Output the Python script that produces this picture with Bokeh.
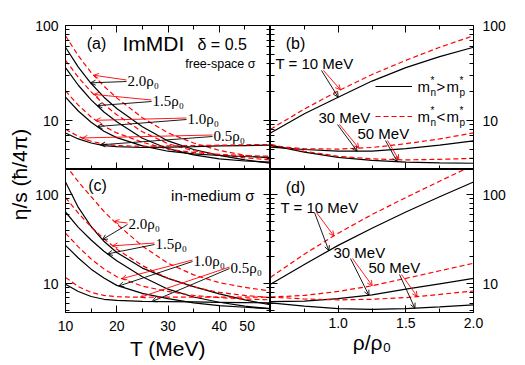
import numpy as np
from bokeh.plotting import figure
from bokeh.models import (Range1d, LinearAxis, LogAxis, FixedTicker, PrintfTickFormatter,
                          Label, Arrow, OpenHead, Legend, LegendItem)
from bokeh.layouts import row, column
from bokeh.embed import file_html
from bokeh.resources import INLINE

# ---------------- data ----------------
T_GRID = [10, 12.5, 15, 17.5, 20, 25, 30, 35, 40, 45, 50]
RHO_GRID = [0.5, 0.75, 1.0, 1.25, 1.5, 1.75, 2.0]

# (a) free-space sigma : eta/s vs T
A_20_SOLID = [59, 36.5, 24.5, 17.6, 13.4, 8.6, 6.1, 4.95, 4.3, 3.85, 3.55]
A_20_DASH = [78, 48, 32, 23, 17.3, 10.7, 7.4, 5.8, 4.85, 4.3, 4.0]
A_15_SOLID = [36, 23.5, 16.5, 12.3, 9.7, 6.5, 5.05, 4.35, 3.95, 3.75, 3.65]
A_15_DASH = [43, 28.5, 20, 14.8, 11.5, 7.6, 5.7, 4.8, 4.35, 4.05, 3.85]
A_10_SOLID = [17.6, 12.6, 9.6, 7.7, 6.6, 5.4, 4.75, 4.45, 4.28, 4.18, 4.1]
A_10_DASH = [20.5, 14.5, 10.9, 8.7, 7.4, 5.9, 5.0, 4.6, 4.4, 4.28, 4.2]
A_05_SOLID = [7.4, 6.4, 5.8, 5.45, 5.3, 5.2, 5.25, 5.3, 5.4, 5.45, 5.5]
A_05_DASH = [8.1, 6.8, 6.05, 5.65, 5.45, 5.35, 5.4, 5.45, 5.5, 5.55, 5.6]

# (b) free-space sigma : eta/s vs rho/rho0
B_T10_SOLID = [7.4, 11.8, 17.6, 26, 36, 47, 59]
B_T10_DASH = [8.1, 13.2, 20.5, 30.5, 43, 59, 78]
B_T30_SOLID = [5.25, 4.95, 4.75, 4.75, 5.05, 5.5, 6.1]
B_T30_DASH = [5.4, 5.05, 5.0, 5.2, 5.7, 6.4, 7.4]
B_T50_SOLID = [5.5, 4.65, 4.1, 3.8, 3.65, 3.58, 3.55]
B_T50_DASH = [5.6, 4.75, 4.2, 3.95, 3.85, 3.9, 4.0]

# (c) in-medium sigma : eta/s vs T
C_20_SOLID = [139, 72, 44, 30, 22.5, 15, 11.5, 9.3, 7.7, 6.6, 5.8]
C_20_DASH = [215, 140, 95, 65, 47, 26.5, 17, 12.6, 10.3, 9.1, 8.3]
C_15_SOLID = [64, 43, 31, 23.2, 18.1, 12.0, 8.7, 7.1, 6.2, 5.6, 5.25]
C_15_DASH = [93, 62, 43.5, 32, 24.5, 16, 11.5, 9.2, 8.0, 7.4, 7.0]
C_10_SOLID = [27, 19.5, 14.6, 11.6, 9.6, 7.8, 6.8, 6.1, 5.7, 5.45, 5.25]
C_10_DASH = [37, 26, 19, 14.7, 12.0, 9.4, 8.2, 7.4, 7.0, 6.75, 6.6]
C_05_SOLID = [9.9, 8.2, 7.2, 6.7, 6.5, 6.35, 6.3, 6.25, 6.2, 6.15, 6.1]
C_05_DASH = [11.8, 9.3, 8.0, 7.4, 7.15, 7.05, 7.1, 7.1, 7.1, 7.1, 7.1]

# (d) in-medium sigma : eta/s vs rho/rho0
D_T10_SOLID = [9.9, 16.5, 27, 42, 64, 95, 139]
D_T10_DASH = [11.8, 21.5, 37, 60, 93, 142, 215]
D_T30_SOLID = [6.3, 6.4, 6.8, 7.5, 8.7, 10.0, 11.5]
D_T30_DASH = [7.1, 7.4, 8.2, 9.5, 11.5, 14.0, 17]
D_T50_SOLID = [6.1, 5.6, 5.25, 5.15, 5.25, 5.5, 5.8]
D_T50_DASH = [7.1, 6.75, 6.6, 6.7, 7.0, 7.6, 8.3]

T_TICKS = [10, 20, 30, 40, 50]
T_MINOR = [15, 25, 35, 45]
RHO_TICKS = [1.0, 1.5, 2.0]
RHO_MINOR = [0.75, 1.25, 1.75]
Y_TICKS = [10, 100]
Y_MINOR_TOP = [4, 5, 6, 7, 8, 9, 20, 30, 40, 50, 60, 70, 80, 90]
Y_MINOR_BOT = [5, 6, 7, 8, 9, 20, 30, 40, 50, 60, 70, 80, 90]

# ---------------- style / layout ----------------
SANS = "Liberation Sans"
SERIF = "Liberation Serif"
RED = "#ff0000"
DASH = "5 3"
LW = 1.2
NBSP = "\u00a0"

FW = {"L": 205, "R": 203}
FH = {"T": 144, "B": 143}
LAB_W = 32
B_LEFT, B_RIGHT, B_TOP, B_BOTTOM = 33, 40, 25, 51
PX = {"L": (65, 270), "R": (270, 473)}
PY = {"T": (25, 169), "B": (169, 312)}
X_T = (10, 50)
X_RHO = (0.5, 2.0)
Y_TOP = (3.05, 100)
Y_BOT = (4.76, 192)


class Geo:
    def __init__(self, px, py, xr, yr):
        self.px, self.py, self.xr, self.yr = px, py, xr, yr

    def x(self, sx):
        return self.xr[0] + (sx - self.px[0]) / (self.px[1] - self.px[0]) * (self.xr[1] - self.xr[0])

    def y(self, sy):
        l0, l1 = np.log10(self.yr[0]), np.log10(self.yr[1])
        return float(10 ** (l1 - (sy - self.py[0]) / (self.py[1] - self.py[0]) * (l1 - l0)))


def make_fig(col, rw, xr, yr):
    bl = B_LEFT if col == "L" else 0
    br = B_RIGHT if col == "R" else 0
    bt = B_TOP if rw == "T" else 0
    bb = B_BOTTOM if rw == "B" else 0
    p = figure(width=bl + FW[col] + br, height=bt + FH[rw] + bb,
               x_range=Range1d(*xr), y_range=Range1d(*yr), y_axis_type="log",
               x_axis_location=None, y_axis_location=None,
               toolbar_location=None, output_backend="svg",
               min_border_left=bl, min_border_right=br,
               min_border_top=bt, min_border_bottom=bb)
    for g in p.grid:
        g.visible = False
    p.outline_line_color = "black"
    p.border_fill_color = "white"
    p.background_fill_color = "white"
    return p, Geo(PX[col], PY[rw], xr, yr)


def add_axis(p, side, log, ticks, minor, labels, fmt="%d", standoff=7, ticks_on=True):
    Ax = LogAxis if log else LinearAxis
    ax = Ax(ticker=FixedTicker(ticks=ticks, minor_ticks=minor),
            formatter=PrintfTickFormatter(format=fmt))
    ax.major_tick_in = 7 if ticks_on else 0
    ax.major_tick_out = 0
    ax.minor_tick_in = 4 if ticks_on else 0
    ax.minor_tick_out = 0
    ax.axis_line_color = "black"
    ax.major_tick_line_color = "black"
    ax.minor_tick_line_color = "black"
    ax.major_label_text_font = SANS
    if labels:
        ax.major_label_text_color = "black"
        ax.major_label_text_font_size = "14px"
        ax.major_label_standoff = standoff
    else:
        ax.major_label_text_color = None
        ax.major_label_text_font_size = "0px"
        ax.major_label_standoff = 0
    p.add_layout(ax, side)
    return ax


def axis_title(ax, text):
    ax.axis_label = text
    ax.axis_label_text_font = SANS
    ax.axis_label_text_font_size = "21px"
    ax.axis_label_text_font_style = "normal"
    ax.axis_label_text_color = "black"
    ax.axis_label_standoff = 0


def txt(p, g, sx, sy, s, size="15px", font=SANS, align="left", baseline="middle", angle=0.0):
    p.add_layout(Label(x=g.x(sx), y=g.y(sy), text=s, text_font=font, text_font_size=size,
                       text_align=align, text_baseline=baseline, text_color="black", angle=angle))


def on_curve(xs, ys, x):
    return float(10 ** np.interp(x, xs, np.log10(ys)))


def pointer(p, g, sx, sy, xs, ys, tip_x, color):
    p.add_layout(Arrow(end=OpenHead(size=5, line_color=color, line_width=0.9),
                       x_start=g.x(sx), y_start=g.y(sy),
                       x_end=tip_x, y_end=on_curve(xs, ys, tip_x),
                       line_color=color, line_width=0.9))


def curves(p, xs, pairs):
    rs = []
    for solid, dash in pairs:
        rs.append(p.line(xs, solid, line_color="black", line_width=LW))
        rs.append(p.line(xs, dash, line_color=RED, line_width=LW, line_dash=DASH))
    return rs


# ---------------- panel (a) ----------------
pa, ga = make_fig("L", "T", X_T, Y_TOP)
add_axis(pa, "left", True, Y_TICKS, Y_MINOR_TOP, True)
add_axis(pa, "right", True, Y_TICKS, Y_MINOR_TOP, False)
add_axis(pa, "below", False, T_TICKS, T_MINOR, False)
add_axis(pa, "above", False, T_TICKS, T_MINOR, False)
curves(pa, T_GRID, [(A_20_SOLID, A_20_DASH), (A_15_SOLID, A_15_DASH),
                    (A_10_SOLID, A_10_DASH), (A_05_SOLID, A_05_DASH)])
txt(pa, ga, 96, 43, "(a)", "16px", align="center")
txt(pa, ga, 122, 43, "ImMDI", "21px")
txt(pa, ga, 197, 44, "δ = 0.5", "16px")
txt(pa, ga, 255, 63, "free-space σ", "12.5px", align="right")
a_lab = [("2.0ρ₀", 127, 80, A_20_SOLID, A_20_DASH, 14.9, 15.5),
         ("1.5ρ₀", 152, 100, A_15_SOLID, A_15_DASH, 16.2, 15.5),
         ("1.0ρ₀", 187, 118, A_10_SOLID, A_10_DASH, 16.2, 15.9),
         ("0.5ρ₀", 213, 135, A_05_SOLID, A_05_DASH, 16.8, 13.3)]
for s, lx, ly, so, da, ts, td in a_lab:
    txt(pa, ga, lx, ly, s, "15px", font=SERIF)
    pointer(pa, ga, lx - 1, ly + 1, T_GRID, so, ts, "black")
    pointer(pa, ga, lx - 1, ly - 0.5, T_GRID, da, td, RED)

# ---------------- panel (b) ----------------
pb, gb = make_fig("R", "T", X_RHO, Y_TOP)
add_axis(pb, "left", True, Y_TICKS, Y_MINOR_TOP, False)
add_axis(pb, "right", True, Y_TICKS, Y_MINOR_TOP, True, standoff=9)
add_axis(pb, "below", False, RHO_TICKS, RHO_MINOR, False)
add_axis(pb, "above", False, RHO_TICKS, RHO_MINOR, False)
rb = curves(pb, RHO_GRID, [(B_T10_SOLID, B_T10_DASH), (B_T30_SOLID, B_T30_DASH),
                           (B_T50_SOLID, B_T50_DASH)])
txt(pb, gb, 295, 43, "(b)", "16px", align="center")
b_lab = [("T = 10 MeV", 275, 63, 322, 70, B_T10_SOLID, B_T10_DASH, 1.0, 1.017),
         ("30 MeV", 318, 117, 338, 124, B_T30_SOLID, B_T30_DASH, 1.14, 1.153),
         ("50 MeV", 357, 133, 386, 140, B_T50_SOLID, B_T50_DASH, 1.436, 1.448)]
for s, lx, ly, sx, sy, so, da, ts, td in b_lab:
    txt(pb, gb, lx, ly, s, "15px")
    pointer(pb, gb, sx - 1, sy, RHO_GRID, so, ts, "black")
    pointer(pb, gb, sx + 1, sy, RHO_GRID, da, td, RED)
leg = Legend(items=[LegendItem(label="", renderers=[rb[0]]),
                    LegendItem(label="", renderers=[rb[1]])],
             location=(105, 43), padding=0, margin=0, spacing=10, glyph_height=20,
             label_height=20, glyph_width=37, label_standoff=0, label_width=0,
             border_line_color=None, background_fill_alpha=0)
pb.add_layout(leg)
for yy, sym in [(86, ">"), (116, "<")]:
    txt(pb, gb, 417, yy, "m", "15px")
    txt(pb, gb, 430, yy - 6, "*", "10px")
    txt(pb, gb, 430, yy + 6, "n", "10px")
    txt(pb, gb, 436, yy, sym, "15px")
    txt(pb, gb, 446, yy, "m", "15px")
    txt(pb, gb, 459, yy - 6, "*", "10px")
    txt(pb, gb, 459, yy + 6, "p", "10px")

# ---------------- panel (c) ----------------
pc, gc = make_fig("L", "B", X_T, Y_BOT)
add_axis(pc, "left", True, Y_TICKS, Y_MINOR_BOT, True)
add_axis(pc, "right", True, Y_TICKS, Y_MINOR_BOT, False)
ax_c = add_axis(pc, "below", False, T_TICKS, T_MINOR, True, standoff=5)
# the last label sits on the panel edge: pad it so that it stays inside this panel
ax_c.major_label_overrides = {50: "50" + NBSP * 4}
axis_title(ax_c, "T (MeV)")
add_axis(pc, "above", False, T_TICKS, T_MINOR, False, ticks_on=False)
curves(pc, T_GRID, [(C_20_SOLID, C_20_DASH), (C_15_SOLID, C_15_DASH),
                    (C_10_SOLID, C_10_DASH), (C_05_SOLID, C_05_DASH)])
txt(pc, gc, 97, 185, "(c)", "16px", align="center")
txt(pc, gc, 254, 195, "in-medium σ", "15px", align="right")
c_lab = [("2.0ρ₀", 128, 223, C_20_SOLID, C_20_DASH, 17.2, 19.5),
         ("1.5ρ₀", 155, 243, C_15_SOLID, C_15_DASH, 18.2, 19.2),
         ("1.0ρ₀", 193, 260, C_10_SOLID, C_10_DASH, 20.4, 21.0),
         ("0.5ρ₀", 230, 267, C_05_SOLID, C_05_DASH, 26.9, 24.6)]
for s, lx, ly, so, da, ts, td in c_lab:
    txt(pc, gc, lx, ly, s, "15px", font=SERIF)
    pointer(pc, gc, lx - 1, ly + 1, T_GRID, so, ts, "black")
    pointer(pc, gc, lx - 1, ly - 0.5, T_GRID, da, td, RED)

# ---------------- panel (d) ----------------
pd_, gd = make_fig("R", "B", X_RHO, Y_BOT)
add_axis(pd_, "left", True, Y_TICKS, Y_MINOR_BOT, False)
add_axis(pd_, "right", True, Y_TICKS, Y_MINOR_BOT, True, standoff=9)
ax_d = add_axis(pd_, "below", False, RHO_TICKS, RHO_MINOR, True, fmt="%.1f", standoff=5)
axis_title(ax_d, "ρ/ρ₀")
add_axis(pd_, "above", False, RHO_TICKS, RHO_MINOR, False, ticks_on=False)
curves(pd_, RHO_GRID, [(D_T10_SOLID, D_T10_DASH), (D_T30_SOLID, D_T30_DASH),
                       (D_T50_SOLID, D_T50_DASH)])
txt(pd_, gd, 295, 187, "(d)", "16px", align="center")
d_lab = [("T = 10 MeV", 280, 207, 315, 212, D_T10_SOLID, D_T10_DASH, 0.931, 0.968),
         ("30 MeV", 333, 252, 351, 258, D_T30_SOLID, D_T30_DASH, 1.227, 1.252),
         ("50 MeV", 368, 267, 400, 274, D_T50_SOLID, D_T50_DASH, 1.567, 1.584)]
for s, lx, ly, sx, sy, so, da, ts, td in d_lab:
    txt(pd_, gd, lx, ly, s, "15px")
    pointer(pd_, gd, sx - 1, sy, RHO_GRID, so, ts, "black")
    pointer(pd_, gd, sx + 1, sy, RHO_GRID, da, td, RED)

# ---------------- y label strip ----------------
TOTAL_H = B_TOP + FH["T"] + FH["B"] + B_BOTTOM
lab = figure(width=LAB_W, height=TOTAL_H, x_range=Range1d(0, LAB_W), y_range=Range1d(0, TOTAL_H),
             x_axis_location=None, y_axis_location=None, toolbar_location=None,
             output_backend="svg", min_border=0)
lab.outline_line_color = None
for g in lab.grid:
    g.visible = False
lab.add_layout(Label(x=19, y=TOTAL_H - 174, text="η/s (ħ/4π)", angle=np.pi / 2,
                     text_align="center", text_baseline="middle", text_font=SANS,
                     text_font_size="21px", text_color="black"))

layout = row(lab, column(row(pa, pb), row(pc, pd_)))
open("out.html", "w").write(file_html(layout, INLINE))
